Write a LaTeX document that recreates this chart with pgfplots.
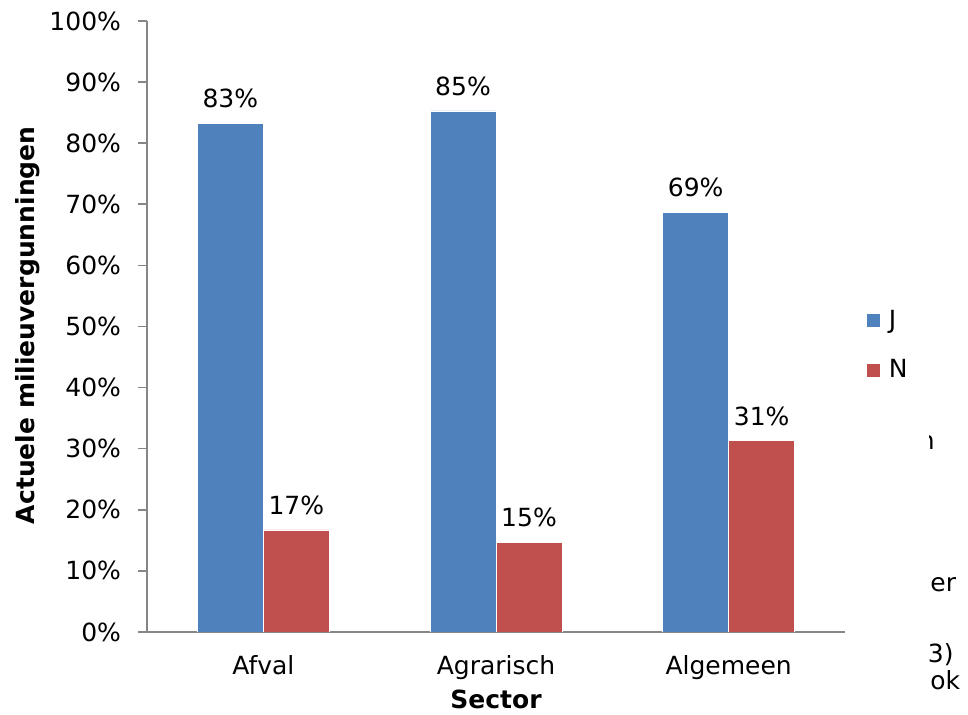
\documentclass[border=0pt]{standalone}
\usepackage{fontspec}
\setmainfont{DejaVu Sans}
\usepackage{pgfplots}
\pgfplotsset{compat=1.18}

\definecolor{barJ}{HTML}{4F81BD}
\definecolor{barN}{HTML}{C0504D}
\definecolor{axgray}{HTML}{868686}

\begin{document}
\begin{tikzpicture}[font=\fontsize{12.5}{15}\selectfont]
\useasboundingbox[fill=white] (0,0) rectangle (484pt,357.5pt);
% stray text at the right edge, partly hidden behind the chart area
\node[anchor=base east, inner sep=0] at (467.5pt,132.5pt) {n};
\node[anchor=base west, inner sep=0] at (465pt,61.5pt) {er};
\node[anchor=base east, inner sep=0] at (477pt,26pt) {3)};
\node[anchor=base west, inner sep=0] at (465pt,12.5pt) {ok};
\fill[white] (440pt,0pt) rectangle (464.5pt,145pt);
\begin{axis}[
  at={(73.5pt,41.5pt)}, anchor=south west,
  scale only axis, width=349pt, height=305.5pt,
  ybar=0pt, bar width=33pt,
  xmin=-0.5, xmax=2.5, ymin=0, ymax=100,
  axis x line=bottom, axis y line=left,
  axis line style={-, axgray, line width=0.8pt},
  tick style={axgray, line width=0.8pt},
  tick align=outside,
  xtick={0,1,2}, xticklabels={Afval, Agrarisch, Algemeen},
  x tick style={draw=none},
  xticklabel style={yshift=-3.5pt},
  extra x ticks={-0.5,0.5,1.5,2.5}, extra x tick labels={},
  extra x tick style={major tick length=4.5pt, tick style={axgray, line width=0.8pt}},
  ytick={0,10,...,100}, major tick length=4.5pt,
  yticklabel={\pgfmathprintnumber{\tick}\%},
  yticklabel style={xshift=-5pt},
  /pgf/number format/assume math mode=true,
  ylabel={\textbf{Actuele milieuvergunningen}},
  ylabel style={at={(axis description cs:-0.1705,0.502)}, anchor=center},
  xlabel={\textbf{Sector}},
  xlabel style={at={(axis description cs:0.5,-0.111)}, anchor=center},
  nodes near coords={\pgfmathprintnumber[fixed,precision=0]{\pgfplotspointmeta}\%},
  nodes near coords style={yshift=4pt},
  legend style={at={(1.03,0.534)}, anchor=north west, draw=none, fill=none,
    row sep=10pt, inner sep=0pt, nodes={inner xsep=4pt}},
  legend cell align=left,
  legend image code/.code={\fill (0pt,-3.5pt) rectangle (7pt,3.5pt);},
]
\addplot[fill=barJ, draw=white, line width=0.3pt] coordinates {(0,83.3) (1,85.3) (2,68.7)};
\addplot[fill=barN, draw=white, line width=0.3pt] coordinates {(0,16.7) (1,14.7) (2,31.3)};
\legend{J, N}
\end{axis}
\end{tikzpicture}
\end{document}
